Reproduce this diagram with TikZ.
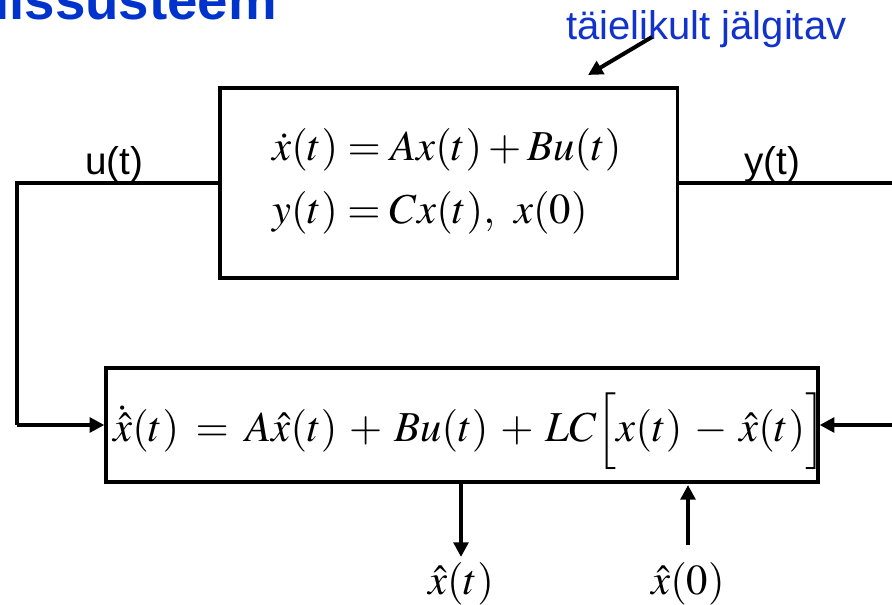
\documentclass[tikz,border=0pt]{standalone}
\usepackage{mathptmx}
\usepackage{fontspec}
\setmainfont{Liberation Serif}
\setsansfont{Liberation Sans}
\usetikzlibrary{arrows.meta}
\definecolor{titleblue}{RGB}{0,51,204}
\definecolor{noteblue}{RGB}{17,51,204}
\tikzset{
  blockbox/.style={draw=black, line width=2.5pt, inner sep=0pt},
  conn/.style={draw=black, line width=2.4pt},
  arr/.style={draw=black, line width=3pt, -{Triangle[length=11pt,width=11pt]}},
  eqn/.style={inner sep=0pt, font=\fontsize{32}{38}\selectfont},
  lab/.style={inner sep=0pt, font=\sffamily\fontsize{29}{34}\selectfont},
}
\begin{document}
\begin{tikzpicture}[x=0.75pt,y=-0.75pt]
\clip (0,0) rectangle (892,605);
\useasboundingbox (0,0) rectangle (892,605);
% title
\node[anchor=base west, inner sep=0pt, text=titleblue, font=\sffamily\bfseries\fontsize{41}{48}\selectfont] (title) at (-6,20) {lissusteem};
% annotation
\node[anchor=base west, inner sep=0pt, text=noteblue, font=\sffamily\fontsize{30}{35}\selectfont] (note) at (566,40) {täielikult jälgitav};
\coordinate (noteA) at (652,37);
\coordinate (noteB) at (588,75);
\draw[arr] (noteA) -- (noteB);
% plant box
\node[blockbox, minimum width=343pt, minimum height=142.5pt] (plant) at (448.5,183) {};
\node[eqn, anchor=base west] (eq1) at (272,161) {$\dot{x}(t)=Ax(t)+Bu(t)$};
\node[eqn, anchor=base west] (eq2) at (272,224) {$y(t)=Cx(t),\;\,x(0)$};
% observer box
\node[blockbox, minimum width=534pt, minimum height=85.5pt] (obs) at (462,425) {};
\node[eqn, anchor=base west] (eq3) at (113,442) {$\thickmuskip=7mu plus 2mu\medmuskip=5mu plus 2mu\dot{\hat{x}}(t)=A\hat{x}(t)+Bu(t)+LC\Big[x(t)-\hat{x}(t)\Big]$};
% input line
\coordinate (uL) at (17,183);
\coordinate (uD) at (17,425);
\draw[conn] (plant.west) -- (uL) -- (uD);
\draw[arr] (uD) -- (obs.west);
\node[lab, anchor=base] (ulab) at (114,175) {u(t)};
% output line
\coordinate (yR) at (893,183);
\coordinate (yIn) at (893,425);
\draw[conn] (plant.east) -- (yR);
\draw[arr] (yIn) -- (obs.east);
\node[lab, anchor=base] (ylab) at (772,175) {y(t)};
% outputs of observer
\coordinate (xtop) at (461,482);
\coordinate (xend) at (461,557);
\draw[arr] (xtop) -- (xend);
\node[eqn, anchor=base] (xhat) at (461,594) {$\hat{x}(t)$};
\coordinate (x0start) at (688,545);
\coordinate (x0end) at (688,485);
\draw[arr] (x0start) -- (x0end);
\node[eqn, anchor=base] (x0) at (688,594) {$\hat{x}(0)$};
\end{tikzpicture}
\end{document}
